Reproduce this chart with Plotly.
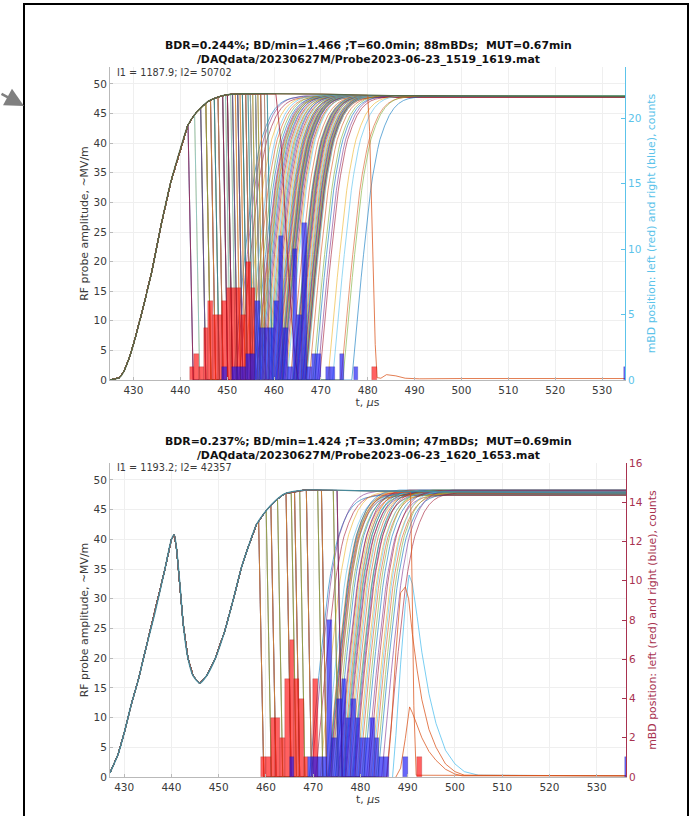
import numpy as np
import plotly.graph_objects as go

W, H = 697, 816
TITLE_TOP = "BDR=0.244%; BD/min=1.466 ;T=60.0min; 88mBDs;\u00a0 MUT=0.67min<br>/DAQdata/20230627M/Probe2023-06-23_1519_1619.mat"
TITLE_BOT = "BDR=0.237%; BD/min=1.424 ;T=33.0min; 47mBDs;\u00a0 MUT=0.69min<br>/DAQdata/20230627M/Probe2023-06-23_1620_1653.mat"
NOTE_TOP = "I1 = 1187.9; I2= 50702"
NOTE_BOT = "I1 = 1193.2; I2= 42357"
X_TICKS = [430, 440, 450, 460, 470, 480, 490, 500, 510, 520, 530]
Y_TICKS = [0, 5, 10, 15, 20, 25, 30, 35, 40, 45, 50]
R_TICKS_TOP = [0, 5, 10, 15, 20]
R_TICKS_BOT = [0, 2, 4, 6, 8, 10, 12, 14, 16]
COLORS = ["#0072BD", "#D95319", "#EDB120", "#7E2F8E", "#77AC30", "#4DBEEE", "#A2142F"]

# pulse envelopes
ENV_T_TOP = [425.0, 427, 428, 429, 430, 432, 434, 436, 438, 440, 441.6, 443, 444.4, 446, 448, 450, 453, 470, 485, 500, 534.9]
ENV_V_TOP = [0, 0.4, 1.5, 3.5, 6, 12, 18.6, 26.5, 33.5, 39, 43, 44.8, 46, 47.1, 47.8, 48.2, 48.35, 48.3, 48.05, 48, 47.85]
ENV_T_BOT = [427.0, 428.7, 430, 431.5, 433, 434.7, 436.5, 438.6, 440, 440.6, 441.1, 441.8, 442.5, 443.5, 444.6, 446, 447.4,
             449.2, 451.3, 453, 454.8, 456.2, 458, 459.8, 462, 464, 468, 480, 500, 536.2]
ENV_V_BOT = [0.7, 3.8, 7.4, 12.2, 16.4, 22, 27.6, 34.9, 40, 40.8, 38.3, 32.4, 25.7, 20, 17, 15.8, 17,
             19.8, 24.6, 29.6, 35.2, 38.6, 42.5, 44.6, 46.5, 47.7, 48.3, 48.2, 48, 47.8]

# recovery shape after a breakdown: time since onset, amplitude
RISE_DT = [0, 0.4, 0.8, 1.2, 1.6, 2, 2.5, 3, 3.5, 4, 4.5, 5, 5.5, 6, 7, 8, 9, 10, 11, 12, 13, 14, 15, 17, 70]
RISE_V = [0, 3.7, 7.3, 11, 14.3, 17.3, 21.2, 25.2, 28.8, 32, 34.7, 37, 39, 40.7, 43, 44.8, 46, 46.8, 47.3, 47.6, 47.8, 47.9, 48, 48, 48]

# counts per 1 us bin, right axes
RED_BINS_TOP = [442, 443, 444, 445, 446, 447, 448, 449, 450, 451, 452, 453, 454, 455, 481]
RED_COUNT_TOP = [1, 2, 1, 4, 6, 5, 5, 6, 7, 7, 7, 5, 9, 7, 1]
BLUE_BINS_TOP = [449, 451, 452, 453, 454, 455, 456, 457, 458, 459, 460, 461, 462, 463, 464, 465, 466, 467, 468, 469, 471, 472, 474, 477]
BLUE_COUNT_TOP = [1, 1, 1, 1, 2, 2, 6, 4, 4, 4, 6, 11, 4, 1, 10, 5, 12, 1, 2, 2, 1, 1, 2, 1]
RED_BINS_BOT = [459, 460, 461, 462, 463, 464, 465, 466, 467, 468, 470, 492]
RED_COUNT_BOT = [1, 1, 3, 3, 2, 5, 7, 5, 4, 1, 5, 1]
BLUE_BINS_BOT = [465, 469, 470, 471, 472, 473, 474, 475, 476, 477, 478, 479, 480, 481, 482, 483, 484, 485, 489]
BLUE_COUNT_BOT = [1, 1, 1, 1, 1, 8, 2, 4, 5, 3, 4, 3, 2, 2, 3, 2, 1, 1, 1]
EDGE_TIME_TOP, EDGE_COUNT_TOP = 534.75, 1
EDGE_TIME_BOT, EDGE_COUNT_BOT = 536.05, 1

# each shot: time of collapse and time when the probe signal returns
FALL_TOP = [442.2, 443.6, 444.9, 444.9, 446, 446, 447, 447, 447.8, 447.8, 448.6, 448.6, 449.6, 449.6, 450.2, 450.6,
            450.6, 451.3, 451.7, 451.7, 452.3, 452.8, 452.8, 453.3, 453.8, 453.8, 454.5, 454.5, 455, 455.5,
            455.5, 456, 456.6, 456.6, 457.1, 457.7, 457.7, 458.5, 459.1]
RISE_TOP = [451.3, 451.8, 452.5, 453.5, 454.3, 454.7, 455.3, 455.7, 456.1, 456.25, 456.4, 456.55, 456.7, 456.85,
            457.1, 457.35, 457.6, 457.85, 458.1, 458.35, 458.6, 458.85, 459.1, 459.35, 459.6, 459.85,
            460.1, 460.25, 460.4, 460.55, 460.7, 460.85, 461.05, 461.15, 461.25, 461.35, 461.45, 461.55, 461.65,
            461.72, 461.8, 461.88, 461.95, 462.1, 462.35, 462.6, 462.85, 463.5, 464.05, 464.15, 464.25, 464.35,
            464.45, 464.55, 464.65, 464.75, 464.85, 464.95, 465.1, 465.3, 465.5, 465.7, 465.9, 466.05, 466.15,
            466.25, 466.35, 466.42, 466.5, 466.58, 466.65, 466.72, 466.8, 466.88, 466.95, 467.5, 468.3, 468.7,
            469.3, 469.7, 471.5, 472.5, 474.3, 474.7, 476.6]
LEVEL_TOP = [47.9, 48.0, 47.85, 47.95, 48.05, 47.9, 48.0]
FALL_BOT = [459.0, 460.6, 461.6, 463.0, 464.8, 465.9, 466.6, 467.7, 469.1, 471.5, 472.3, 474.8, 475.6]
RISE_BOT = [469.2, 469.6, 470.5, 471.5, 472.5, 473.1, 473.2, 473.3, 473.45, 473.55, 473.7, 473.8, 473.9, 474.3, 474.7,
            475.2, 475.4, 475.6, 475.8, 476.1, 476.3, 476.5, 476.7, 476.9, 477.2, 477.5, 477.8, 478.2, 478.4, 478.6,
            478.8, 479.2, 479.5, 479.8, 480.3, 480.7, 481.3, 481.7, 482.2, 482.5, 482.8, 483.3, 483.7, 484.5, 485.5]
LEVEL_BOT = [47.4, 48.2, 47.7, 48.1, 47.5, 47.9, 47.6, 48.3, 47.8]

# individually read curves
SLOW_T_TOP, SLOW_V_TOP = [460.4, 461.5, 462.8, 463.8, 464.6, 465.2], [48.3, 40, 22, 10, 3, 0]
LATE_T_TOP = [480.0, 480.4, 481.0, 481.6, 482.0, 482.8, 484, 486, 488, 491, 500, 534.9]
LATE_V_TOP = [48.1, 42, 22, 6, 0.4, 0.3, 0.9, 0.7, 0.3, 0.2, 0.25, 0.25]
TAIL_A_T, TAIL_A_V = [486.8, 487.5, 488.5, 489.5, 490.3, 491, 492, 493, 494.5, 496, 498, 500, 502, 505, 536.2], [0, 7, 19, 29, 34, 32.5, 27, 21, 14, 9, 4.5, 2.2, 0.9, 0.3, 0.2]
TAIL_B_T, TAIL_B_V = [485.6, 486.5, 487.5, 488.5, 489.5, 490.2, 491, 492, 493, 494.5, 496, 498, 500, 502, 536.2], [0, 8, 21, 31, 32, 30, 24, 18, 13, 8, 5, 2.2, 0.9, 0.3, 0.2]
TAIL_C_T, TAIL_C_V = [487.5, 488.5, 489.5, 490.4, 491, 492, 493, 494.5, 496, 498, 500, 501.5, 536.2], [0, 1.5, 6.5, 11.8, 10.8, 8.6, 6.6, 4.3, 2.8, 1.3, 0.5, 0.2, 0.2]
DROP_T, DROP_V = [490.6, 490.9, 491.3, 491.8, 536.2], [47.9, 34, 12, 0.3, 0.2]

GRID = "#efefef"
AXIS = "#b9b9b9"
TEXT = "#3a3a3a"
FONT = "DejaVu Sans"
PAIR_ORDER = 3
LINE_W = 0.75
LINE_OP = 0.78


def shot_curve(env_t, env_v, fall, rise, level, tmax):
    start = fall - 0.55
    stop = fall + 0.55
    keep = [t for t in env_t if t < start]
    xs = keep + [start, stop, rise]
    ys = list(np.interp(keep, env_t, env_v)) + [float(np.interp(start, env_t, env_v)), 0.0, 0.0]
    for dt, v in zip(RISE_DT[1:], RISE_V[1:]):
        t = rise + dt
        if t > tmax:
            break
        xs.append(t)
        ys.append(v * level / 48.0)
    xs.append(tmax)
    ys.append(level)
    return xs, ys


def add_lines(fig, env_t, env_v, falls, rises, levels, tmax, xa, ya):
    step = 0
    for i, r in enumerate(rises):
        f = falls[i * len(falls) // len(rises)]
        xs, ys = shot_curve(env_t, env_v, f, r, levels[i % len(levels)], tmax)
        fig.add_trace(go.Scatter(x=xs, y=ys, mode="lines", xaxis=xa, yaxis=ya, showlegend=False, opacity=LINE_OP,
                                 hoverinfo="skip", line=dict(width=LINE_W, color=COLORS[step % 7])))
        step += PAIR_ORDER


def add_curve(fig, xs, ys, color, xa, ya, width=LINE_W, shape="linear"):
    fig.add_trace(go.Scatter(x=xs, y=ys, mode="lines", xaxis=xa, yaxis=ya, showlegend=False,
                             hoverinfo="skip", line=dict(width=width, color=color, shape=shape, smoothing=0.6)))


def add_hist(fig, bins, counts, fill, edge, xa, ya):
    fig.add_trace(go.Bar(x=[b + 0.5 for b in bins], y=counts, width=1, xaxis=xa, yaxis=ya, showlegend=False,
                         hoverinfo="skip", marker=dict(color=fill, line=dict(color=edge, width=0.5))))


RED_FILL, RED_EDGE = "rgba(255,0,0,0.62)", "rgba(140,20,20,0.45)"
BLUE_FILL, BLUE_EDGE = "rgba(20,20,245,0.65)", "rgba(40,20,120,0.45)"

fig = go.Figure()
add_lines(fig, ENV_T_TOP, ENV_V_TOP, FALL_TOP, RISE_TOP, LEVEL_TOP, 534.9, "x", "y")
early_top_a = [t for t in ENV_T_TOP if t < 460.4]
early_top_b = [t for t in ENV_T_TOP if t < 480]
add_curve(fig, early_top_a + SLOW_T_TOP, list(np.interp(early_top_a, ENV_T_TOP, ENV_V_TOP)) + SLOW_V_TOP, COLORS[6], "x", "y")
add_curve(fig, early_top_b + LATE_T_TOP, list(np.interp(early_top_b, ENV_T_TOP, ENV_V_TOP)) + LATE_V_TOP, COLORS[1], "x", "y")
add_curve(fig, ENV_T_TOP, ENV_V_TOP, "#56694a", "x", "y", 1.3, "spline")
add_hist(fig, RED_BINS_TOP, RED_COUNT_TOP, RED_FILL, RED_EDGE, "x", "y2")
add_hist(fig, BLUE_BINS_TOP, BLUE_COUNT_TOP, BLUE_FILL, BLUE_EDGE, "x", "y2")
add_hist(fig, [EDGE_TIME_TOP], [EDGE_COUNT_TOP], BLUE_FILL, BLUE_EDGE, "x", "y2")

add_lines(fig, ENV_T_BOT, ENV_V_BOT, FALL_BOT, RISE_BOT, LEVEL_BOT, 536.2, "x2", "y3")
add_curve(fig, TAIL_A_T, TAIL_A_V, COLORS[5], "x2", "y3")
add_curve(fig, TAIL_B_T, TAIL_B_V, COLORS[1], "x2", "y3")
add_curve(fig, TAIL_C_T, TAIL_C_V, COLORS[1], "x2", "y3")
early_bot = [t for t in ENV_T_BOT if t < 490.6]
add_curve(fig, early_bot + DROP_T, list(np.interp(early_bot, ENV_T_BOT, ENV_V_BOT)) + DROP_V, COLORS[1], "x2", "y3")
add_curve(fig, ENV_T_BOT, ENV_V_BOT, "#47899b", "x2", "y3", 1.4, "spline")
add_hist(fig, RED_BINS_BOT, RED_COUNT_BOT, RED_FILL, RED_EDGE, "x2", "y4")
add_hist(fig, BLUE_BINS_BOT, BLUE_COUNT_BOT, BLUE_FILL, BLUE_EDGE, "x2", "y4")
add_hist(fig, [EDGE_TIME_BOT], [EDGE_COUNT_BOT], BLUE_FILL, BLUE_EDGE, "x2", "y4")


def px_x(p):
    return p / W


def px_y(p):
    return 1 - p / H


def x_axis(lo, hi, dom, anchor):
    return dict(domain=[px_x(dom[0]), px_x(dom[1])], range=[lo, hi], anchor=anchor, tickvals=X_TICKS, automargin=False,
                ticks="inside", ticklen=3, tickcolor=AXIS, showline=True, linecolor=AXIS, linewidth=1,
                showgrid=True, gridcolor=GRID, gridwidth=1, zeroline=False, mirror=False,
                tickfont=dict(family=FONT, size=10.5, color=TEXT),
                title=dict(text="t, <i>\u03bc</i>s", standoff=2, font=dict(family=FONT, size=10.9, color=TEXT)))


def y_left(top, hi, bottom, anchor):
    return dict(domain=[px_y(bottom), px_y(top)], range=[0, hi], anchor=anchor, tickvals=Y_TICKS, automargin=False,
                ticks="inside", ticklen=3, tickcolor=AXIS, showline=True, linecolor=AXIS, linewidth=1,
                showgrid=True, gridcolor=GRID, gridwidth=1, zeroline=False,
                tickfont=dict(family=FONT, size=10.5, color=TEXT),
                title=dict(text="RF probe amplitude, ~MV/m", standoff=2, font=dict(family=FONT, size=10.9, color=TEXT)))


def y_right(top, hi, bottom, anchor, over, ticks, color):
    return dict(domain=[px_y(bottom), px_y(top)], range=[0, hi], anchor=anchor, overlaying=over, side="right",
                automargin=False, tickvals=ticks, ticks="inside", ticklen=4, tickcolor=color, showline=True,
                linecolor=color, linewidth=1, showgrid=False, zeroline=False,
                tickfont=dict(family=FONT, size=10.5, color=color),
                title=dict(text="mBD position: left (red) and right (blue), counts", standoff=6,
                           font=dict(family=FONT, size=10.9, color=color)))


def note(text, x, y, size, weight="normal", anchor="center"):
    return dict(text=text, xref="paper", yref="paper", x=px_x(x), y=px_y(y), showarrow=False, xanchor=anchor,
                yanchor="middle", align="center", font=dict(family=FONT, size=size, color="#111" if weight == "bold" else TEXT, weight=weight))


fig.update_layout(
    width=W, height=H, margin=dict(l=0, r=0, t=0, b=0), paper_bgcolor="white", plot_bgcolor="white",
    barmode="overlay", bargap=0, showlegend=False,
    xaxis=x_axis(425.0, 534.9, (110, 625), "y"),
    yaxis=y_left(67, 52.87, 380, "x"),
    yaxis2=y_right(67, 23.9, 380, "x", "y", R_TICKS_TOP, "#5cc3ea"),
    xaxis2=x_axis(427.0, 536.2, (110, 626), "y3"),
    yaxis3=y_left(463, 52.86, 777, "x2"),
    yaxis4=y_right(463, 16, 777, "x2", "y3", R_TICKS_BOT, "#a8324f"),
    annotations=[
        note(TITLE_TOP, 368, 52, 10.9, "bold"),
        note(TITLE_BOT, 368, 448, 10.9, "bold"),
        note(NOTE_TOP, 115, 72, 9.7, anchor="left"),
        note(NOTE_BOT, 115, 468, 9.7, anchor="left"),
        dict(x=px_x(24), y=px_y(106), xref="paper", yref="paper", ax=-26, ay=-13, axref="pixel", ayref="pixel",
             text="", showarrow=True, arrowhead=2, arrowsize=1.5, arrowwidth=2.5, arrowcolor="#808080"),
    ],
    shapes=[dict(type="rect", xref="paper", yref="paper", x0=px_x(24), x1=px_x(688), y0=-0.05, y1=px_y(4),
                 line=dict(color="black", width=2), fillcolor="rgba(0,0,0,0)", layer="above")],
)

fig.write_html("out.html", post_script="document.body.style.margin='0';document.documentElement.style.overflow='hidden';",
               config=dict(displayModeBar=False))
